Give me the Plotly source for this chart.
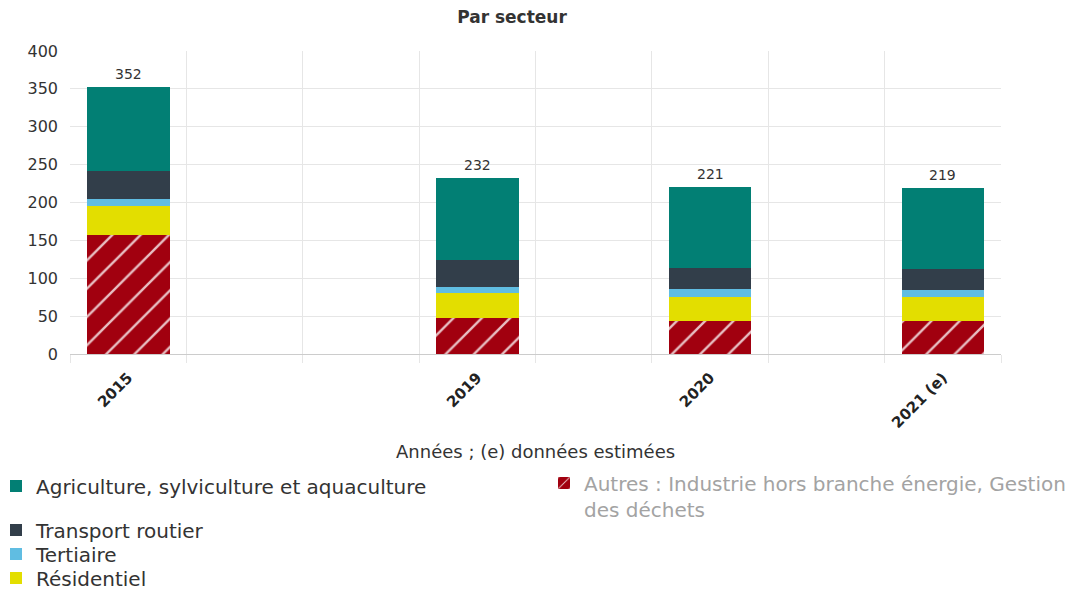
import plotly.graph_objects as go

# ---- data ----
categories = ["2015", "2019", "2020", "2021 (e)"]
axis_slots = ["2015", " ", "  ", "2019", "   ", "2020", "    ", "2021 (e)"]
autres = [157, 47.5, 43.6, 43.5]
residentiel = [39, 33.5, 32, 31.7]
tertiaire = [9, 7, 9.7, 8.8]
transport = [37, 36.5, 28.6, 28.7]
agriculture = [110, 107.5, 107.1, 106.3]
totals = [352, 232, 221, 219]

names = {
    "agri": "Agriculture, sylviculture et aquaculture",
    "autres": "Autres : Industrie hors branche énergie, Gestion<br>des déchets",
    "transport": "Transport routier",
    "tertiaire": "Tertiaire",
    "residentiel": "Résidentiel",
}

FONT = "DejaVu Sans"
W, H = 1075, 590
PLOT_LEFT, PLOT_RIGHT = 70, 1001
PLOT_TOP, PLOT_BOTTOM = 51, 354

fig = go.Figure()

fig.add_trace(go.Bar(
    x=categories, y=autres, name=names["autres"], legend="legend6",
    marker=dict(color="#a1000f", line=dict(width=0),
                pattern=dict(shape="/", fgcolor="#ffffff", fgopacity=0.75,
                             size=20, solidity=0.12, fillmode="overlay")),
))
fig.add_trace(go.Bar(x=categories, y=residentiel, name=names["residentiel"],
                     legend="legend5", marker=dict(color="#e3de00", line=dict(width=0))))
fig.add_trace(go.Bar(x=categories, y=tertiaire, name=names["tertiaire"],
                     legend="legend4", marker=dict(color="#60bde2", line=dict(width=0))))
fig.add_trace(go.Bar(x=categories, y=transport, name=names["transport"],
                     legend="legend3", marker=dict(color="#323e4a", line=dict(width=0))))
fig.add_trace(go.Bar(x=categories, y=agriculture, name=names["agri"],
                     legend="legend2", marker=dict(color="#027f74", line=dict(width=0))))

total_labels = [dict(x=axis_slots.index(c), y=t, text=str(t), showarrow=False,
                     yanchor="middle", yshift=13,
                     font=dict(family=FONT, size=14, color="#333333"))
                for c, t in zip(categories, totals)]

def leg(py, px=-4, color="#333333"):
    return dict(x=(px - PLOT_LEFT) / (PLOT_RIGHT - PLOT_LEFT), y=1 - py / H,
                xref="paper", yref="container",
                xanchor="left", yanchor="middle", orientation="v",
                bgcolor="rgba(0,0,0,0)", borderwidth=0, valign="top",
                font=dict(family=FONT, size=20, color=color))

fig.update_layout(
    width=W, height=H,
    barmode="stack", bargap=0.29,
    plot_bgcolor="white", paper_bgcolor="white",
    margin=dict(l=PLOT_LEFT, r=W - PLOT_RIGHT, t=PLOT_TOP, b=H - PLOT_BOTTOM,
                autoexpand=False),
    font=dict(family=FONT, color="#333333"),
    title=dict(text="<b>Par secteur</b>", x=512 / W, xanchor="center",
               xref="container", y=1 - 17 / H, yref="container", yanchor="middle",
               font=dict(family=FONT, size=17, color="#333333")),
    legend2=leg(486),
    legend3=leg(530),
    legend4=leg(554),
    legend5=leg(578),
    legend6=leg(496, px=544, color="#a3a3a3"),
    xaxis=dict(type="category", categoryorder="array", categoryarray=axis_slots,
               tickson="boundaries", showgrid=True, gridcolor="#e6e6e6",
               ticks="outside", ticklen=8, tickcolor="#e6e6e6",
               showline=True, linecolor="#cccccc", linewidth=1,
               tickangle=-45, ticklabelstandoff=8,
               tickfont=dict(family=FONT, size=15, color="#222222", weight="bold"),
               range=[-0.5, 7.5], fixedrange=True),
    yaxis=dict(range=[0, 400], dtick=50, showgrid=True, gridcolor="#e6e6e6",
               zeroline=False, showline=False,
               tickfont=dict(family=FONT, size=16, color="#333333"),
               ticks="", ticklabelstandoff=11, fixedrange=True),
    annotations=total_labels + [
        dict(text="Années ; (e) données estimées", x=0.5, xref="paper",
             y=(PLOT_BOTTOM - 451) / (PLOT_BOTTOM - PLOT_TOP), yref="paper",
             yanchor="middle", showarrow=False,
             font=dict(family=FONT, size=18, color="#333333"))],
)

fig.write_html("out.html", config={"displayModeBar": False},
               post_script="document.body.style.margin='0px';")
